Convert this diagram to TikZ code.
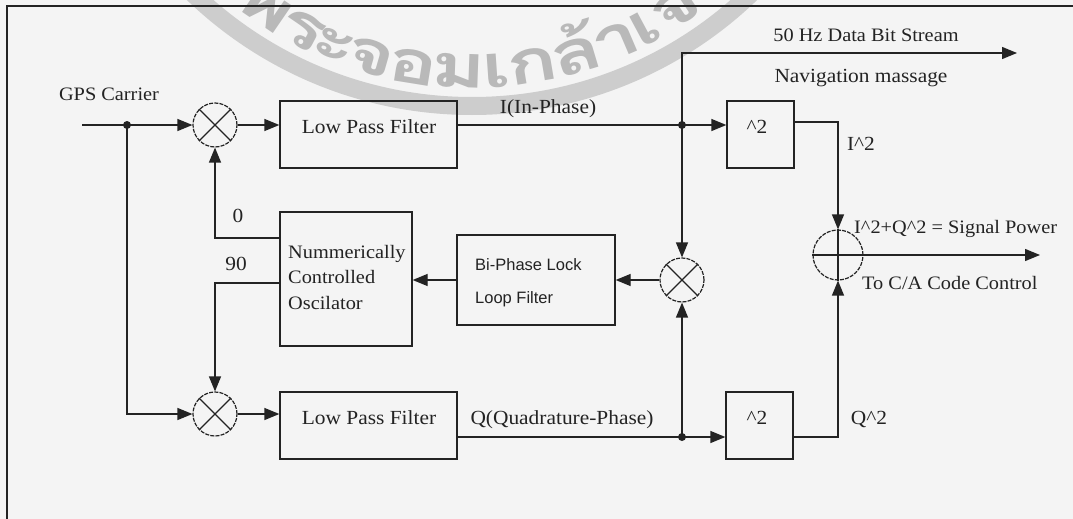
\documentclass[tikz,border=0pt]{standalone}
\usepackage{fontspec}
\setmainfont{Liberation Serif}[FakeStretch=1.07]
\newfontfamily\bplfont{Liberation Sans}
\newfontfamily\thaifont[Script=Thai,FakeStretch=1.4]{Loma}
\usetikzlibrary{arrows.meta}
\definecolor{ink}{RGB}{35,35,35}
\definecolor{paper}{RGB}{244,244,244}
\definecolor{wmband}{RGB}{205,205,205}
\definecolor{wmtext}{RGB}{185,185,185}
\begin{document}
\begin{tikzpicture}[x=1pt,y=-1pt,
  line/.style={draw=ink,line width=1.3pt},
  arr/.style={line,-{Triangle[length=15pt,width=12pt]}},
  box/.style={draw=ink,line width=1.3pt,rectangle,inner sep=0pt},
  mix/.style={draw=ink,line width=1.2pt,dash pattern=on 4pt off 1.2pt,circle,minimum size=44pt,inner sep=0pt},
  dotn/.style={circle,fill=ink,minimum size=8pt,inner sep=0pt},
  lbl/.style={font=\fontsize{20}{24}\selectfont,inner sep=0pt,text=ink,anchor=base},
  slbl/.style={font=\fontsize{19}{23}\selectfont,inner sep=0pt,text=ink,anchor=base},
  wmch/.style={font=\thaifont\bfseries\fontsize{60}{66}\selectfont,text=wmtext,inner sep=0pt,anchor=base}
]
\useasboundingbox (0,0) rectangle (1073,519);
\fill[paper] (0,0) rectangle (1073,519);
% watermark
\begin{scope}
  \clip (0,0) rectangle (1073,519);
  \coordinate (wc) at (472,-296);
  \draw[wmband,line width=18pt] (wc) circle[radius=402];
  \foreach \th/\ph/\ch in {124.4/-34.4/พ, 117.55/-27.55/ร, 111.94/-21.94/ะ, 106.02/-16.02/จ, 99.17/-9.17/อ, 92.0/-2.0/ม, 86.09/3.91/เ, 80.48/9.52/ก, 73.31/16.69/ล้, 66.77/23.23/า, 61.79/28.21/เ, 56.18/33.82/จ้, 49.95/40.05/า, 43.4/46.6/คุ}
    \path (wc) ++(\th:384) node[wmch,rotate=\ph] {\ch};
\end{scope}
% frame
\draw[line] (1075,6) -- (7,6) -- (7,521);
% blocks
\node[box,minimum width=177pt,minimum height=67pt] (lpf1) at (368.5,134.5) {};
\node[box,minimum width=177pt,minimum height=67pt] (lpf2) at (368.5,425.5) {};
\node[box,minimum width=132pt,minimum height=134pt] (nco) at (346,279) {};
\node[box,minimum width=158pt,minimum height=90pt] (bpl) at (536,280) {};
\node[box,minimum width=67pt,minimum height=67pt] (sq1) at (760.5,134.5) {};
\node[box,minimum width=67pt,minimum height=67pt] (sq2) at (759.5,425.5) {};
\node[mix] (m1) at (215,125) {};
\node[mix] (m2) at (215,414) {};
\node[mix] (m3) at (682,280) {};
\node[mix,minimum size=50pt] (sum) at (838,255) {};
\draw[line] (m1.north west) -- (m1.south east) (m1.north east) -- (m1.south west);
\draw[line] (m2.north west) -- (m2.south east) (m2.north east) -- (m2.south west);
\draw[line] (m3.north west) -- (m3.south east) (m3.north east) -- (m3.south west);
\draw[line] (sum.west) -- (sum.east) (sum.north) -- (sum.south);
% coordinates
\coordinate (cin) at (82,125);
\coordinate (dataend) at (1017,53);
\coordinate (outend) at (1040,255);
\coordinate (n0) at (280,238);
\coordinate (n90) at (280,283);
\coordinate (c1) at (838,122);
\coordinate (c2) at (838,437);
\coordinate (d1) at (127,125);
\coordinate (d2) at (682,125);
\coordinate (d3) at (682,437);
% connectors
\draw[line] (cin) -- (d1);
\draw[arr] (d1) -- (m1.west);
\draw[arr] (d1) |- (m2.west);
\draw[arr] (m1.east) -- (m1.east -| lpf1.west);
\draw[arr] (m2.east) -- (m2.east -| lpf2.west);
\draw[line] (d2 -| lpf1.east) -- (d2);
\draw[arr] (d2) -- (d2 -| sq1.west);
\draw[arr] (d2) |- (dataend);
\draw[arr] (d2) -- (m3.north);
\draw[line] (d3 -| lpf2.east) -- (d3);
\draw[arr] (d3) -- (d3 -| sq2.west);
\draw[arr] (d3) -- (m3.south);
\draw[arr] (m3.west) -- (m3.west -| bpl.east);
\draw[arr] (bpl.west) -- (bpl.west -| nco.east);
\draw[arr] (n0) -| (m1.south);
\draw[arr] (n90) -| (m2.north);
\draw[arr] (c1 -| sq1.east) -| (sum.north);
\draw[arr] (c2 -| sq2.east) -| (sum.south);
\draw[arr] (sum.east) -- (outend);
\node[dotn] (dot1) at (d1) {};
\node[dotn] (dot2) at (d2) {};
\node[dotn] (dot3) at (d3) {};
% texts
\node[slbl] (tgps) at (109,100) {GPS Carrier};
\node[lbl] (tl1) at (369,133) {Low Pass Filter};
\node[lbl] (tl2) at (369,424) {Low Pass Filter};
\node[lbl] (ti) at (548,113) {I(In-Phase)};
\node[lbl] (tq) at (562,424) {Q(Quadrature-Phase)};
\node[slbl] (tdata) at (866,42) {50 Hz Data Bit Stream};
\node[lbl] (tnav) at (861,82) {Navigation massage};
\node[lbl] (ts1) at (757,133) {\textasciicircum 2};
\node[lbl] (ts2) at (757,424) {\textasciicircum 2};
\node[lbl] (ti2) at (861,150) {I\textasciicircum 2};
\node[lbl] (tq2) at (869,424) {Q\textasciicircum 2};
\node[slbl,anchor=base west] (tpow) at (854,233) {I\textasciicircum 2+Q\textasciicircum 2 = Signal Power};
\node[slbl,anchor=base west] (tca) at (862,289) {To C/A Code Control};
\node[lbl] (t0) at (238,222) {0};
\node[lbl] (t90) at (236,270) {90};
\node[slbl,anchor=base west] (tn1) at (288,258) {Nummerically};
\node[slbl,anchor=base west] (tn2) at (288,283) {Controlled};
\node[slbl,anchor=base west] (tn3) at (288,309) {Oscilator};
\node[font=\bplfont\fontsize{16.5}{20}\selectfont,text=ink,inner sep=0pt,anchor=base west] (tb1) at (475,270) {Bi-Phase Lock};
\node[font=\bplfont\fontsize{16.5}{20}\selectfont,text=ink,inner sep=0pt,anchor=base west] (tb2) at (475,303) {Loop Filter};
\end{tikzpicture}
\end{document}
